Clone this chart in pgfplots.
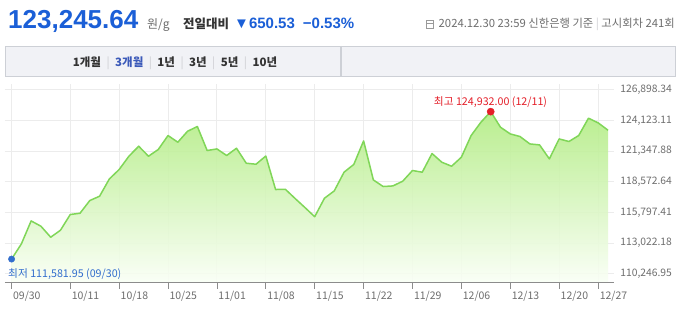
\documentclass[border=0pt]{standalone}
\usepackage{pgfplots}
\pgfplotsset{compat=1.18}
\usepackage{fontspec}
\setmainfont{Noto Sans CJK KR}
\newfontfamily\arialf{Liberation Sans}
\definecolor{mainblue}{RGB}{27,95,215}
\definecolor{lowblue}{RGB}{50,110,205}
\definecolor{hired}{RGB}{228,30,40}
\definecolor{txtgray}{RGB}{110,110,110}
\definecolor{darktxt}{RGB}{51,51,51}
\definecolor{sepgray}{RGB}{205,205,210}
\definecolor{tabbg}{RGB}{241,242,246}
\definecolor{tabborder}{RGB}{205,208,214}
\definecolor{tabblue}{RGB}{60,90,185}
\definecolor{gridc}{RGB}{236,236,236}
\definecolor{linegreen}{RGB}{128,214,88}
\definecolor{filltop}{RGB}{176,236,128}
\definecolor{fillbot}{RGB}{250,255,246}
\begin{document}
\begin{tikzpicture}[x=1pt,y=1pt]
\path[use as bounding box, fill=white] (0,0) rectangle (680,312);
% header
\node[anchor=base west, inner sep=0, text=mainblue] at (8,283) {\arialf\fontsize{26}{26}\selectfont\bfseries 123,245.64};
\node[anchor=base west, inner sep=0, text=txtgray] at (147,283) {\fontsize{12}{12}\selectfont 원/g};
\node[anchor=base west, inner sep=0, text=darktxt] at (183,283) {\fontsize{12.5}{12.5}\selectfont\bfseries 전일대비};
\node[anchor=base west, inner sep=0, text=mainblue] at (234,283) {\arialf\fontsize{15}{15}\selectfont\bfseries ▼650.53\hspace{8pt}−0.53\%};
\draw[txtgray!70, line width=0.8pt] (426,283.5) rectangle (433,291.5);
\draw[txtgray!70, line width=0.8pt] (426,289) -- (433,289);
\node[anchor=base east, inner sep=0, text=txtgray] at (675,284) {\fontsize{11.3}{11.3}\selectfont 2024.12.30 23:59 신한은행 기준 {\color{sepgray}|} 고시회차 241회};
% tab bar
\draw[draw=tabborder, fill=tabbg, line width=0.8pt] (5,266) rectangle (675,236);
\draw[draw=tabborder, line width=1.2pt] (341,266) -- (341,236);
\node[anchor=base west, inner sep=0, text=darktxt] at (72.7,245.5) {\fontsize{11.5}{11.5}\selectfont\bfseries 1개월\hspace{5.5pt}{\color{sepgray}\mdseries|}\hspace{5.5pt}{\color{tabblue}3개월}\hspace{5.5pt}{\color{sepgray}\mdseries|}\hspace{5.5pt}1년\hspace{5.5pt}{\color{sepgray}\mdseries|}\hspace{5.5pt}3년\hspace{5.5pt}{\color{sepgray}\mdseries|}\hspace{5.5pt}5년\hspace{5.5pt}{\color{sepgray}\mdseries|}\hspace{5.5pt}10년};
% chart
\begin{axis}[
  at={(5,26.5)}, anchor=south west,
  scale only axis, width=609pt, height=198.5pt,
  xmin=-0.685, xmax=61.6, ymin=109441, ymax=127414,
  scaled y ticks=false, scaled x ticks=false,
  axis line style={draw=none},
  grid=major, grid style={gridc, line width=1pt},
  tick align=outside, major tick length=6pt,
  xtick pos=bottom, ytick pos=right,
  ytick style={draw=none},
  xtick style={draw=black!45, line width=0.8pt},
  xtick={0,6,11,16,21,26,31,36,41,46,51,56,60},
  xticklabels={09/30,10/11,10/18,10/25,11/01,11/08,11/15,11/22,11/29,12/06,12/13,12/20,12/27},
  xticklabel style={anchor=north west, xshift=-2pt, yshift=1pt, font=\fontsize{10.5}{10.5}\selectfont, text=txtgray},
  ytick={110246.95,113022.18,115797.41,118572.64,121347.88,124123.11,126898.34},
  yticklabels={{110,246.95},{113,022.18},{115,797.41},{118,572.64},{121,347.88},{124,123.11},{126,898.34}},
  yticklabel pos=right,
  yticklabel style={anchor=west, xshift=-3pt, font=\fontsize{10.3}{10.3}\selectfont, text=txtgray},
  /pgf/number format/assume math mode=true,
  clip=false,
]
\addplot[draw=none, top color=filltop, bottom color=fillbot, fill opacity=0.88] coordinates {
(0,109441)
(0,111581.95) (1,112954) (2,115037) (3,114557) (4,113561) (5,114195) (6,115617) (7,115734)
(8,116884) (9,117274) (10,118840) (11,119691) (12,120896) (13,121801) (14,120896) (15,121502)
(16,122770) (17,122163) (18,123159) (19,123585) (20,121412) (21,121557) (22,120959) (23,121620)
(24,120262) (25,120171) (26,120914) (27,117880) (28,117900) (29,117065) (30,116250) (31,115417)
(32,117093) (33,117754) (34,119447) (35,120153) (36,122281) (37,118750) (38,118152) (39,118206)
(40,118632) (41,119601) (42,119447) (43,121140) (44,120352) (45,119990) (46,120805) (47,122770)
(48,123974) (49,124932.00) (50,123522) (51,122915) (52,122679) (53,122010) (54,121919) (55,120651)
(56,122462) (57,122227) (58,122770) (59,124337) (60,123911) (61,123245.64)
(61,109441)
};
\addplot[linegreen, line width=1.5pt, line join=round] coordinates {
(0,111581.95) (1,112954) (2,115037) (3,114557) (4,113561) (5,114195) (6,115617) (7,115734)
(8,116884) (9,117274) (10,118840) (11,119691) (12,120896) (13,121801) (14,120896) (15,121502)
(16,122770) (17,122163) (18,123159) (19,123585) (20,121412) (21,121557) (22,120959) (23,121620)
(24,120262) (25,120171) (26,120914) (27,117880) (28,117900) (29,117065) (30,116250) (31,115417)
(32,117093) (33,117754) (34,119447) (35,120153) (36,122281) (37,118750) (38,118152) (39,118206)
(40,118632) (41,119601) (42,119447) (43,121140) (44,120352) (45,119990) (46,120805) (47,122770)
(48,123974) (49,124932.00) (50,123522) (51,122915) (52,122679) (53,122010) (54,121919) (55,120651)
(56,122462) (57,122227) (58,122770) (59,124337) (60,123911) (61,123245.64)
};
\addplot[only marks, mark=*, mark size=3.2pt, color=lowblue] coordinates {(0,111581.95)};
\addplot[only marks, mark=*, mark size=3.6pt, color=hired] coordinates {(49,124932.00)};
\draw[black!45, line width=0.8pt] (rel axis cs:0,0) -- (rel axis cs:1,0);
\end{axis}
\node[anchor=west, inner sep=0, text=lowblue] at (8,37.7) {\fontsize{10.7}{10.7}\selectfont 최저 111,581.95 (09/30)};
\node[anchor=center, inner sep=0, text=hired] at (490.5,209.7) {\fontsize{10.7}{10.7}\selectfont 최고 124,932.00 (12/11)};
\end{tikzpicture}
\end{document}
